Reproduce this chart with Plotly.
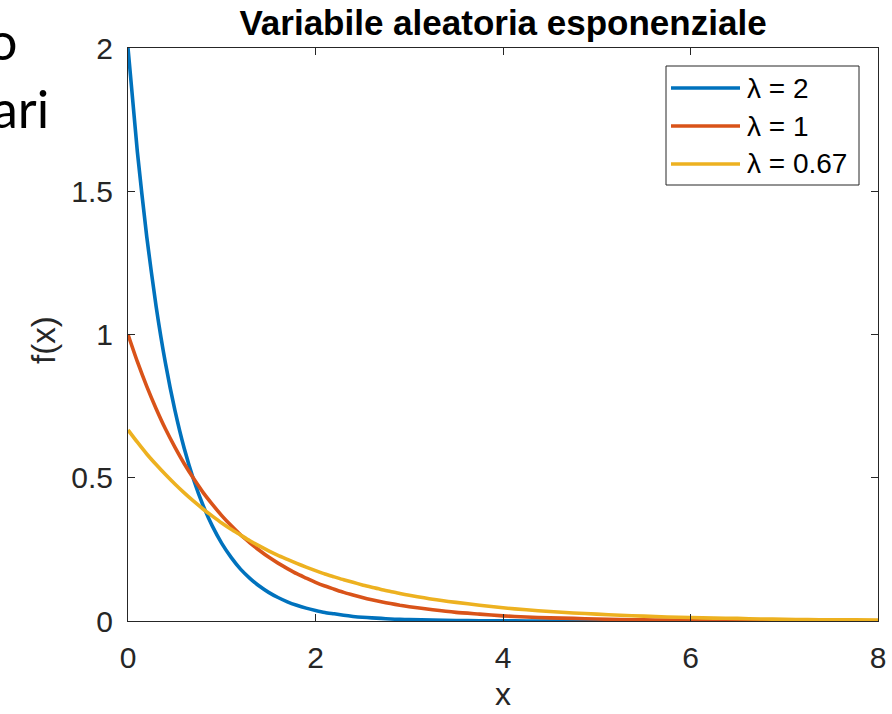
import plotly.graph_objects as go

# ---- data ----
x_vals = [0.0, 0.1, 0.2, 0.3, 0.4, 0.5, 0.6, 0.7, 0.8, 0.9,
          1.0, 1.1, 1.2, 1.3, 1.4, 1.5, 1.6, 1.7, 1.8, 1.9,
          2.0, 2.1, 2.2, 2.3, 2.4, 2.5, 2.6, 2.7, 2.8, 2.9,
          3.0, 3.25, 3.5, 3.75, 4.0, 4.25, 4.5, 4.75, 5.0, 5.25,
          5.5, 5.75, 6.0, 6.25, 6.5, 6.75, 7.0, 7.25, 7.5, 7.75, 8.0]

f_lambda2 = [2.000, 1.637, 1.341, 1.098, 0.899, 0.736, 0.602, 0.493, 0.404, 0.331,
             0.271, 0.222, 0.181, 0.149, 0.122, 0.100, 0.082, 0.067, 0.055, 0.045,
             0.037, 0.030, 0.025, 0.020, 0.016, 0.013, 0.011, 0.009, 0.007, 0.006,
             0.005, 0.003, 0.002, 0.001, 0.001, 0.000, 0.000, 0.000, 0.000, 0.000,
             0.000, 0.000, 0.000, 0.000, 0.000, 0.000, 0.000, 0.000, 0.000, 0.000, 0.000]

f_lambda1 = [1.000, 0.905, 0.819, 0.741, 0.670, 0.607, 0.549, 0.497, 0.449, 0.407,
             0.368, 0.333, 0.301, 0.273, 0.247, 0.223, 0.202, 0.183, 0.165, 0.150,
             0.135, 0.122, 0.111, 0.100, 0.091, 0.082, 0.074, 0.067, 0.061, 0.055,
             0.050, 0.039, 0.030, 0.024, 0.018, 0.014, 0.011, 0.009, 0.007, 0.005,
             0.004, 0.003, 0.002, 0.002, 0.002, 0.001, 0.001, 0.001, 0.001, 0.000, 0.000]

f_lambda067 = [0.667, 0.624, 0.583, 0.546, 0.511, 0.478, 0.447, 0.418, 0.391, 0.366,
               0.342, 0.320, 0.300, 0.280, 0.262, 0.245, 0.229, 0.215, 0.201, 0.188,
               0.176, 0.164, 0.154, 0.144, 0.135, 0.126, 0.118, 0.110, 0.103, 0.096,
               0.090, 0.076, 0.065, 0.055, 0.046, 0.039, 0.033, 0.028, 0.024, 0.020,
               0.017, 0.014, 0.012, 0.010, 0.009, 0.007, 0.006, 0.005, 0.004, 0.004, 0.003]

series_names = ["λ = 2", "λ = 1", "λ = 0.67"]
series_values = [f_lambda2, f_lambda1, f_lambda067]
series_colors = ["#0072BD", "#D95319", "#EDB120"]

x_ticks = [0, 2, 4, 6, 8]
y_ticks = [0, 0.5, 1, 1.5, 2]
y_tick_labels = ["0", "0.5", "1", "1.5", "2"]

title_text = "Variabile aleatoria esponenziale"
x_label = "x"
y_label = "f(x)"

# ---- figure ----
W, H = 892, 714
L, R, T, B = 128, 878, 48, 621


def px_x(p):
    return (p - L) / (R - L)


def px_y(p):
    return (B - p) / (B - T)


fig = go.Figure()
for name, vals, col in zip(series_names, series_values, series_colors):
    fig.add_trace(go.Scatter(x=x_vals, y=vals, mode="lines", name=name,
                             line=dict(color=col, width=3.6, shape="spline", smoothing=0.6),
                             showlegend=False))

axis_col = "#262626"
font_main = "Liberation Sans, Arial, Helvetica, sans-serif"

fig.update_layout(
    width=W, height=H,
    margin=dict(l=L, r=W - R, t=T, b=H - B, pad=0, autoexpand=False),
    paper_bgcolor="white", plot_bgcolor="white",
    font=dict(family=font_main, color=axis_col, size=30),
    title=dict(text="<b>" + title_text + "</b>", x=0.5, xref="paper", xanchor="center",
               y=1 - 23 / H, yref="container", yanchor="middle",
               font=dict(size=35, color="black", family=font_main)),
)

fig.update_xaxes(range=[0, 8], tickvals=x_ticks, ticktext=[str(v) for v in x_ticks],
                 automargin=False,
                 showgrid=False, zeroline=False, showline=True, linecolor=axis_col, linewidth=1,
                 mirror="allticks", ticks="inside", ticklen=7, tickcolor=axis_col,
                 tickfont=dict(size=30, color=axis_col), ticklabelstandoff=10)
fig.update_yaxes(range=[0, 2], tickvals=y_ticks, ticktext=y_tick_labels,
                 automargin=False,
                 showgrid=False, zeroline=False, showline=True, linecolor=axis_col, linewidth=1,
                 mirror="allticks", ticks="inside", ticklen=7, tickcolor=axis_col,
                 tickfont=dict(size=30, color=axis_col), ticklabelstandoff=8)

# axis labels
fig.add_annotation(text=x_label, xref="paper", yref="paper", x=0.5, y=px_y(694),
                   xanchor="center", yanchor="middle", showarrow=False,
                   font=dict(size=32, color=axis_col))
fig.add_annotation(text=y_label, xref="paper", yref="paper", x=px_x(43), y=px_y(340),
                   xanchor="center", yanchor="middle", showarrow=False, textangle=-90,
                   font=dict(size=33, color=axis_col))

# legend (MATLAB style box)
fig.add_shape(type="rect", xref="paper", yref="paper",
              x0=px_x(666), x1=px_x(859), y0=px_y(185), y1=px_y(66),
              line=dict(color=axis_col, width=1), fillcolor="white", layer="above")
legend_rows = [88, 126, 164]
for name, col, py in zip(series_names, series_colors, legend_rows):
    fig.add_shape(type="line", xref="paper", yref="paper",
                  x0=px_x(671), x1=px_x(740), y0=px_y(py), y1=px_y(py),
                  line=dict(color=col, width=3.6), layer="above")
    fig.add_annotation(text=name, xref="paper", yref="paper", x=px_x(745), y=px_y(py),
                       xanchor="left", yanchor="middle", showarrow=False,
                       font=dict(size=28, color="black"))

# cropped slide text at the left edge
fig.add_annotation(text="o", xref="paper", yref="paper", x=px_x(19), y=px_y(40),
                   xanchor="right", yanchor="middle", showarrow=False,
                   font=dict(size=52, color="black", family="Lato, Noto Sans, sans-serif"))
fig.add_annotation(text="ari", xref="paper", yref="paper", x=px_x(51), y=px_y(108),
                   xanchor="right", yanchor="middle", showarrow=False,
                   font=dict(size=52, color="black", family="Lato, Noto Sans, sans-serif"))

fig.write_html("out.html")
